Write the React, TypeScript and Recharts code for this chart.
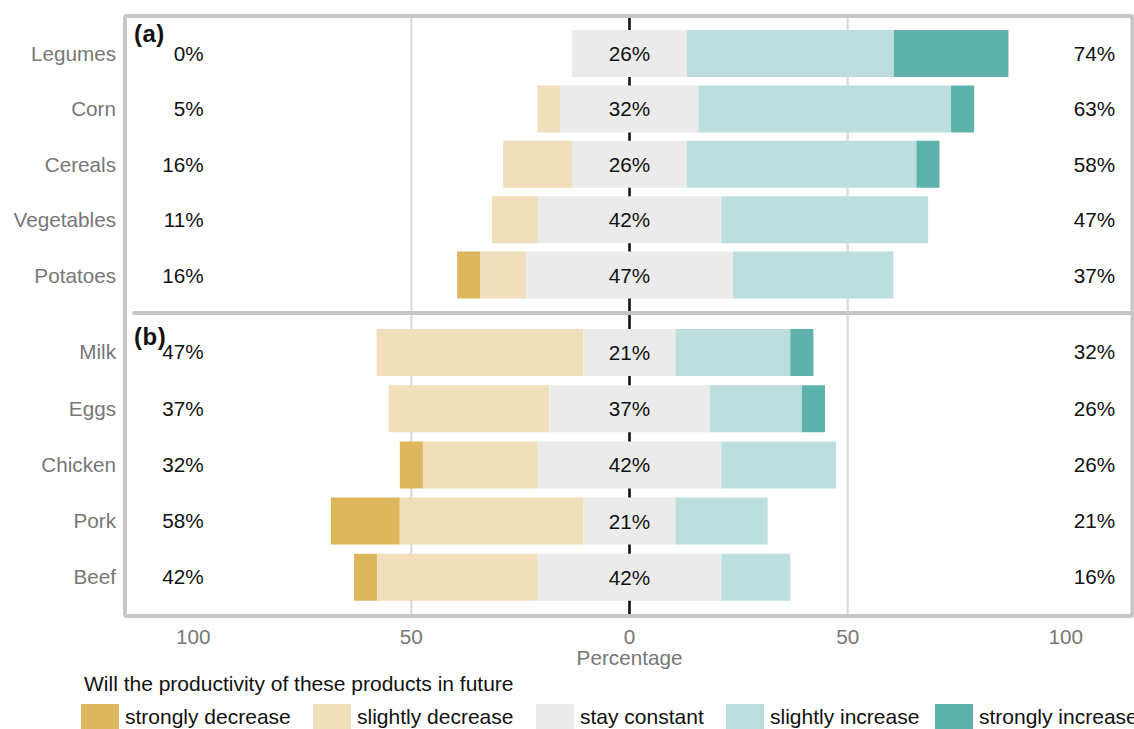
import React from 'react';
import {
  BarChart,
  Bar,
  XAxis,
  YAxis,
  CartesianGrid,
  ReferenceDot,
  LabelList,
} from 'recharts';

const FONT = '"Liberation Sans", Arial, Helvetica, sans-serif';
const FS = 20.7;
const GRAY = '#777777';
const INK = '#111111';

// Answer levels, most negative first, and their fills
const LEVELS = ['strongly decrease', 'slightly decrease', 'stay constant', 'slightly increase', 'strongly increase'];
const LEVEL_KEYS = ['sd', 'slD', 'sc', 'slI', 'sI'];
const LEVEL_COLORS = ['#DDB75D', '#F0DFBA', '#EBEBEB', '#BCDEDD', '#5EB2AC'];

// (a) crops — share of answers per level, in %
const cropNames = ['Legumes', 'Corn', 'Cereals', 'Vegetables', 'Potatoes'];
const cropStronglyDecrease = [0, 0, 0, 0, 5.3];
const cropSlightlyDecrease = [0, 5.3, 15.8, 10.5, 10.5];
const cropStayConstant = [26.3, 31.6, 26.3, 42.1, 47.4];
const cropSlightlyIncrease = [47.4, 57.9, 52.6, 47.4, 36.8];
const cropStronglyIncrease = [26.3, 5.3, 5.3, 0, 0];

// (b) animal products — share of answers per level, in %
const animalNames = ['Milk', 'Eggs', 'Chicken', 'Pork', 'Beef'];
const animalStronglyDecrease = [0, 0, 5.3, 15.8, 5.3];
const animalSlightlyDecrease = [47.4, 36.8, 26.3, 42.1, 36.8];
const animalStayConstant = [21.1, 36.8, 42.1, 21.1, 42.1];
const animalSlightlyIncrease = [26.3, 21.1, 26.3, 21.1, 15.8];
const animalStronglyIncrease = [5.3, 5.3, 0, 0, 0];

// Axis setup
const X_DOMAIN: [number, number] = [-115.4, 115.4];
const X_TICKS = [-100, -50, 0, 50, 100];
const GRID_AT = [-50, 50];
const ZERO_AT = [0];
const LEFT_LABEL_X = -97.6;
const RIGHT_LABEL_X = 111.3;

// Legend layout
const LEGEND_LEFT = [81, 313, 536, 726, 935];

type Row = {
  name: string;
  offset: number;
  sd: number;
  slD: number;
  sc: number;
  slI: number;
  sI: number;
  left: number;
  right: number;
};

function buildRows(
  names: string[],
  sd: number[],
  slD: number[],
  sc: number[],
  slI: number[],
  sI: number[]
): Row[] {
  return names.map((name, i) => ({
    name,
    // invisible lead-in so the neutral block is centred on zero
    offset: -(sd[i] + slD[i] + sc[i] / 2),
    sd: sd[i],
    slD: slD[i],
    sc: sc[i],
    slI: slI[i],
    sI: sI[i],
    left: sd[i] + slD[i],
    right: slI[i] + sI[i],
  }));
}

const cropRows = buildRows(
  cropNames,
  cropStronglyDecrease,
  cropSlightlyDecrease,
  cropStayConstant,
  cropSlightlyIncrease,
  cropStronglyIncrease
);
const animalRows = buildRows(
  animalNames,
  animalStronglyDecrease,
  animalSlightlyDecrease,
  animalStayConstant,
  animalSlightlyIncrease,
  animalStronglyIncrease
);

const pct = (v: number) => `${Math.round(v)}%`;

const CenterLabel = (props: any) => {
  const vb = props.viewBox && props.viewBox.width !== undefined ? props.viewBox : props;
  const x = Number(vb.x) + Number(vb.width) / 2;
  const y = Number(vb.y) + Number(vb.height) / 2;
  return (
    <text
      x={x}
      y={y}
      dy="0.36em"
      textAnchor="middle"
      fill={INK}
      fontSize={FS}
      fontFamily={FONT}
    >
      {pct(Number(props.value))}
    </text>
  );
};

type PanelProps = {
  rows: Row[];
  height: number;
  margin: { top: number; right: number; bottom: number; left: number };
  pad: number;
  showAxis: boolean;
};

function Panel({ rows, height, margin, pad, showAxis }: PanelProps) {
  return (
    <BarChart
      width={1134}
      height={height}
      data={rows}
      layout="vertical"
      margin={margin}
      barSize={47}
    >
      <CartesianGrid
        horizontal={false}
        verticalValues={GRID_AT}
        stroke="#dddddd"
        strokeWidth={2.4}
      />
      <CartesianGrid
        horizontal={false}
        verticalValues={ZERO_AT}
        stroke={INK}
        strokeWidth={2.6}
      />
      <XAxis
        type="number"
        domain={X_DOMAIN}
        allowDataOverflow
        ticks={X_TICKS}
        interval={0}
        tickFormatter={(v: number) => String(Math.abs(v))}
        hide={!showAxis}
        axisLine={false}
        tickLine={false}
        tickSize={4}
        tickMargin={9}
        height={49}
        tick={{ fill: GRAY, fontSize: FS, fontFamily: FONT }}
        label={
          showAxis
            ? {
                value: 'Percentage',
                position: 'insideBottom',
                offset: 0,
                fill: GRAY,
                fontSize: FS,
                fontFamily: FONT,
              }
            : undefined
        }
      />
      <YAxis
        type="category"
        dataKey="name"
        width={126}
        interval={0}
        axisLine={false}
        tickLine={false}
        tickSize={6}
        tickMargin={4}
        padding={{ top: pad, bottom: pad }}
        tick={{ fill: GRAY, fontSize: FS, fontFamily: FONT }}
      />
      <Bar dataKey="offset" stackId="s" fill="none" isAnimationActive={false} />
      {LEVEL_KEYS.map((key, i) => (
        <Bar
          key={key}
          dataKey={key}
          name={LEVELS[i]}
          stackId="s"
          fill={LEVEL_COLORS[i]}
          isAnimationActive={false}
        >
          {key === 'sc' ? <LabelList dataKey="sc" content={CenterLabel} /> : null}
        </Bar>
      ))}
      {rows.map((r) => (
        <ReferenceDot
          key={`l-${r.name}`}
          x={LEFT_LABEL_X}
          y={r.name}
          r={0}
          fill="none"
          stroke="none"
          label={{
            value: pct(r.left),
            position: 'left',
            offset: 0,
            fill: INK,
            fontSize: FS,
            fontFamily: FONT,
          }}
        />
      ))}
      {rows.map((r) => (
        <ReferenceDot
          key={`r-${r.name}`}
          x={RIGHT_LABEL_X}
          y={r.name}
          r={0}
          fill="none"
          stroke="none"
          label={{
            value: pct(r.right),
            position: 'left',
            offset: 0,
            fill: INK,
            fontSize: FS,
            fontFamily: FONT,
          }}
        />
      ))}
    </BarChart>
  );
}

export default function App() {
  return (
    <div
      style={{
        position: 'absolute',
        left: 0,
        top: 0,
        width: 1134,
        height: 729,
        background: '#ffffff',
        overflow: 'hidden',
        fontFamily: FONT,
      }}
    >
      <div style={{ position: 'absolute', left: 0, top: 0 }}>
        <Panel
          rows={cropRows}
          height={320}
          margin={{ top: 16, right: 1, bottom: 7, left: 0 }}
          pad={10}
          showAxis={false}
        />
      </div>
      <div style={{ position: 'absolute', left: 0, top: 300 }}>
        <Panel
          rows={animalRows}
          height={429}
          margin={{ top: 13, right: 1, bottom: 64, left: 0 }}
          pad={11}
          showAxis
        />
      </div>
      <svg
        width={1134}
        height={729}
        style={{ position: 'absolute', left: 0, top: 0, pointerEvents: 'none' }}
      >
        {/* panel frame and divider */}
        <rect x={125} y={16} width={1007.5} height={600} rx={2} fill="none" stroke="#c6c6c6" strokeWidth={4} />
        <line x1={134} y1={313} x2={1132} y2={313} stroke="#c6c6c6" strokeWidth={4} strokeLinecap="round" />
        <text x={134} y={42} fontSize={24} fontWeight="bold" fill={INK} fontFamily={FONT} letterSpacing={0.5}>
          (a)
        </text>
        <text x={134} y={345} fontSize={24} fontWeight="bold" fill={INK} fontFamily={FONT} letterSpacing={0.5}>
          (b)
        </text>
        {/* legend */}
        <text x={84} y={691} fontSize={21} fill={INK} fontFamily={FONT}>
          Will the productivity of these products in future
        </text>
        {LEVELS.map((lv, i) => (
          <g key={lv}>
            <rect x={LEGEND_LEFT[i]} y={704} width={38} height={26} fill={LEVEL_COLORS[i]} />
            <text x={LEGEND_LEFT[i] + 44} y={724} fontSize={21} fill={INK} fontFamily={FONT}>
              {lv}
            </text>
          </g>
        ))}
      </svg>
    </div>
  );
}
